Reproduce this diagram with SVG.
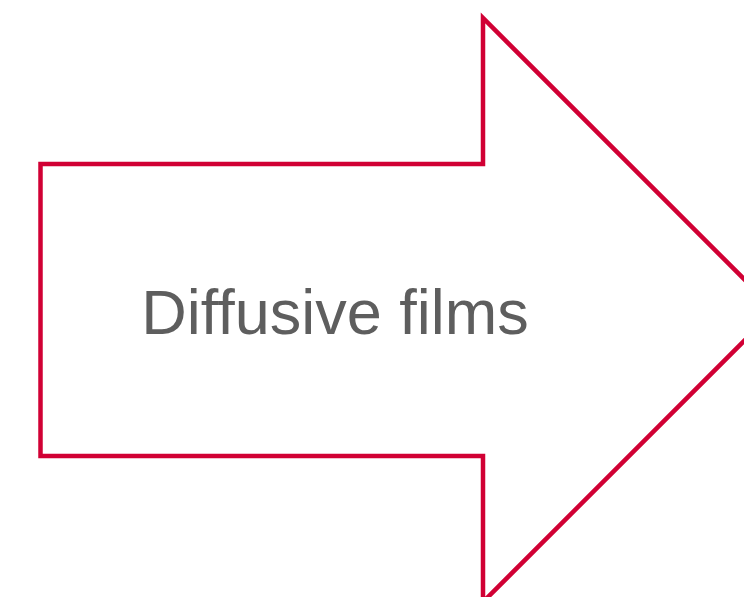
<svg xmlns="http://www.w3.org/2000/svg" width="744" height="597" viewBox="0 0 744 597">
<style>
.arrow{fill:#ffffff;stroke:#d10034;stroke-width:4.5;stroke-linejoin:miter;stroke-miterlimit:10}
.lbl{font-family:"Liberation Sans",Arial,sans-serif;font-size:63px;fill:#5e5e5e}
</style>
<rect width="744" height="597" fill="#ffffff"/>
<g id="arrow-node">
<path class="arrow" d="M40.5,164 L483,164 L483,18 L775,310 L483,602 L483,456 L40.5,456 Z"/>
<text class="lbl" x="335" y="334" text-anchor="middle">Diffusive films</text>
</g>
<g id="connectors"></g>
</svg>
